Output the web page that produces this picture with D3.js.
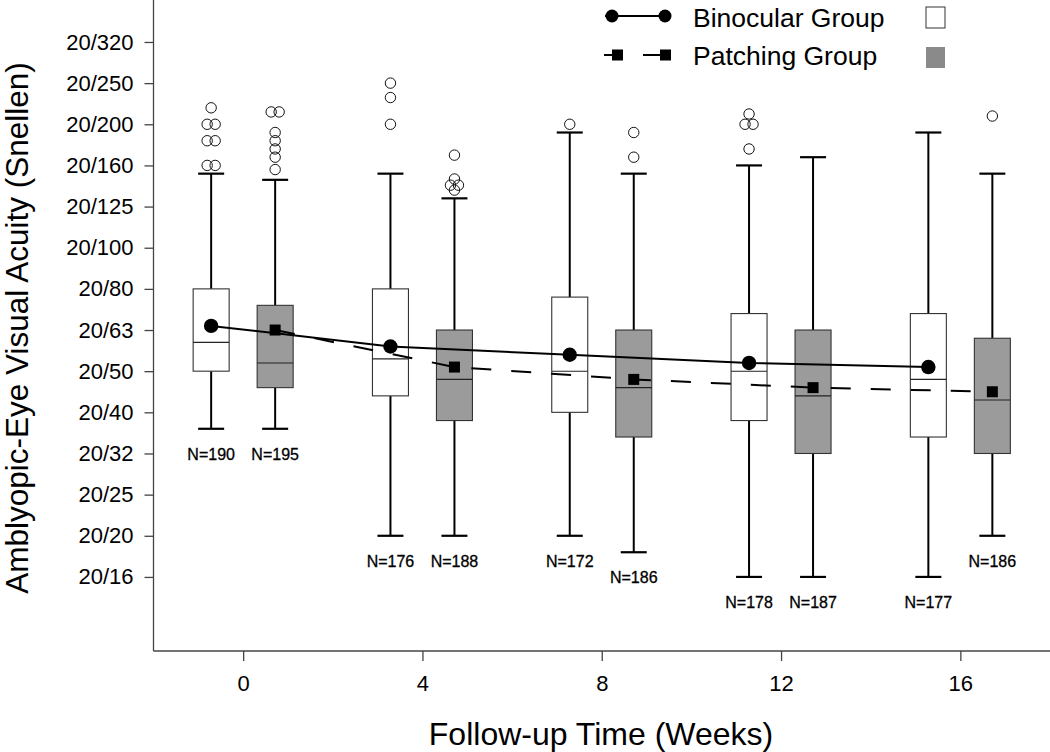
<!DOCTYPE html>
<html><head><meta charset="utf-8">
<script src="https://cdn.jsdelivr.net/npm/d3@7"></script>
<style>
body{margin:0;background:#fff}
svg{display:block}
text{font-family:"Liberation Sans",Arial,Helvetica,sans-serif;fill:#000}
</style>
</head><body>
<svg id="chart" width="1050" height="752"></svg>
<script>
// ---------- data (logMAR values) ----------
const weeks = [0, 4, 8, 12, 16];
const snellenLabels = ["20/16","20/20","20/25","20/32","20/40","20/50","20/63","20/80","20/100","20/125","20/160","20/200","20/250","20/320"];
const snellenLogMAR = [-0.1, 0.0, 0.1, 0.2, 0.3, 0.4, 0.5, 0.6, 0.7, 0.8, 0.9, 1.0, 1.1, 1.2];
const groupNames = ["Binocular Group", "Patching Group"];

const binLow  = [0.26, 0.00, 0.00, -0.10, -0.10];
const binQ1   = [0.40, 0.34, 0.30, 0.28, 0.24];
const binMed  = [0.47, 0.43, 0.40, 0.40, 0.38];
const binQ3   = [0.60, 0.60, 0.58, 0.54, 0.54];
const binHigh = [0.88, 0.88, 0.98, 0.90, 0.98];
const binMean = [0.51, 0.46, 0.44, 0.42, 0.41];
const binN    = [190, 176, 172, 178, 177];
const binOutliers = [[1.04, 1.0, 1.0, 0.96, 0.96, 0.90, 0.90], [1.10, 1.065, 1.0], [1.0], [1.025, 1.0, 1.0, 0.94], []];

const patLow  = [0.26, 0.00, -0.04, -0.10, 0.00];
const patQ1   = [0.36, 0.28, 0.24, 0.20, 0.20];
const patMed  = [0.42, 0.38, 0.36, 0.34, 0.33];
const patQ3   = [0.56, 0.50, 0.50, 0.50, 0.48];
const patHigh = [0.865, 0.82, 0.88, 0.92, 0.88];
const patMean = [0.50, 0.41, 0.38, 0.36, 0.35];
const patN    = [195, 188, 186, 187, 186];
const patOutliers = [[1.03, 1.03, 0.98, 0.96, 0.94, 0.92, 0.89], [0.925, 0.867, 0.852, 0.852, 0.84], [0.98, 0.92], [], [1.02]];

// ---------- build series ----------
function build(low,q1,med,q3,high,mean,n,outl){
  return weeks.map((w,i)=>({week:w,low:low[i],q1:q1[i],med:med[i],q3:q3[i],high:high[i],mean:mean[i],n:n[i],out:outl[i]}));
}
const series = [
  {name: groupNames[0], side:-1, fill:"#ffffff", marker:"circle", dash:null,   data: build(binLow,binQ1,binMed,binQ3,binHigh,binMean,binN,binOutliers)},
  {name: groupNames[1], side: 1, fill:"#9b9b9b", marker:"square", dash:"20,20", data: build(patLow,patQ1,patMed,patQ3,patHigh,patMean,patN,patOutliers)}
];

// ---------- scales ----------
const svg = d3.select("#chart");
const plotL = 153.5, plotR = 1050, plotB = 651, plotT = 0;
const x = d3.scaleLinear().domain([-2, 18]).range([plotL, plotR]);
const y = d3.scaleLinear().domain([-0.28, 1.302]).range([plotB, plotT]);
const offset = 32, boxW = 36, capW = 26;
const px = (s,d) => x(d.week) + s.side*offset;

// ---------- axes ----------
const yAxis = d3.axisLeft(y).tickValues(snellenLogMAR)
  .tickFormat((d,i)=>snellenLabels[i]).tickSizeOuter(0).tickSize(9).tickPadding(11);
const gy = svg.append("g").attr("transform",`translate(${plotL},0)`).call(yAxis);
gy.select(".domain").remove();
gy.selectAll(".tick line").attr("stroke","#444").attr("stroke-width",1.3);
gy.selectAll(".tick text").attr("font-size",22).attr("font-family","'Liberation Sans',Arial,sans-serif").attr("fill","#000");
svg.append("line").attr("x1",plotL).attr("x2",plotL).attr("y1",plotT).attr("y2",plotB)
  .attr("stroke","#444").attr("stroke-width",1.3);

const xAxis = d3.axisBottom(x).tickValues(weeks).tickSizeOuter(0).tickSize(10).tickPadding(14);
const gx = svg.append("g").attr("transform",`translate(0,${plotB})`).call(xAxis);
gx.select(".domain").remove();
gx.selectAll(".tick line").attr("stroke","#444").attr("stroke-width",1.3);
gx.selectAll(".tick text").attr("font-size",22).attr("font-family","'Liberation Sans',Arial,sans-serif").attr("fill","#000");
svg.append("line").attr("x1",plotL).attr("x2",plotR).attr("y1",plotB).attr("y2",plotB)
  .attr("stroke","#444").attr("stroke-width",1.3);

svg.append("text").attr("x",601).attr("y",745).attr("text-anchor","middle")
  .attr("font-size",32).text("Follow-up Time (Weeks)");
svg.append("text").attr("transform","translate(28,328) rotate(-90)").attr("text-anchor","middle")
  .attr("font-size",31.5).text("Amblyopic-Eye Visual Acuity (Snellen)");

// ---------- boxes ----------
series.forEach(s=>{
  const g = svg.append("g");
  const grp = g.selectAll("g.box").data(s.data).join("g").attr("class","box");
  grp.append("line").attr("x1",d=>px(s,d)).attr("x2",d=>px(s,d))
    .attr("y1",d=>y(d.q3)).attr("y2",d=>y(d.high)).attr("stroke","#000").attr("stroke-width",2);
  grp.append("line").attr("x1",d=>px(s,d)).attr("x2",d=>px(s,d))
    .attr("y1",d=>y(d.q1)).attr("y2",d=>y(d.low)).attr("stroke","#000").attr("stroke-width",2);
  grp.append("line").attr("x1",d=>px(s,d)-capW/2).attr("x2",d=>px(s,d)+capW/2)
    .attr("y1",d=>y(d.high)).attr("y2",d=>y(d.high)).attr("stroke","#000").attr("stroke-width",2.2);
  grp.append("line").attr("x1",d=>px(s,d)-capW/2).attr("x2",d=>px(s,d)+capW/2)
    .attr("y1",d=>y(d.low)).attr("y2",d=>y(d.low)).attr("stroke","#000").attr("stroke-width",2.2);
  grp.append("rect").attr("x",d=>px(s,d)-boxW/2).attr("width",boxW)
    .attr("y",d=>y(d.q3)).attr("height",d=>y(d.q1)-y(d.q3))
    .attr("fill",s.fill).attr("stroke","#333").attr("stroke-width",1.1);
  grp.append("line").attr("x1",d=>px(s,d)-boxW/2).attr("x2",d=>px(s,d)+boxW/2)
    .attr("y1",d=>y(d.med)).attr("y2",d=>y(d.med)).attr("stroke","#222").attr("stroke-width",1.1);
  grp.each(function(d){
    const counts = {};
    d.out.forEach(v=>{counts[v]=(counts[v]||0)+1;});
    const seen = {};
    const pts = d.out.map(v=>{
      const k = seen[v]||0; seen[v]=k+1;
      const c = counts[v];
      const dx = c>1 ? (k-(c-1)/2)*8 : 0;
      return {v,dx};
    });
    d3.select(this).selectAll("circle.out").data(pts).join("circle").attr("class","out")
      .attr("cx",p=>px(s,d)+p.dx).attr("cy",p=>y(p.v)).attr("r",5.2)
      .attr("fill","none").attr("stroke","#111").attr("stroke-width",1);
  });
  grp.append("text").attr("x",d=>px(s,d)).attr("y",d=>y(d.low)+31)
    .attr("text-anchor","middle").attr("font-size",16)
    .attr("stroke","#000").attr("stroke-width",0.3).text(d=>"N="+d.n);
});

// ---------- mean lines ----------
series.forEach(s=>{
  const line = d3.line().x(d=>px(s,d)).y(d=>y(d.mean));
  svg.append("path").datum(s.data).attr("d",line).attr("fill","none")
    .attr("stroke","#000").attr("stroke-width",2).attr("stroke-dasharray",s.dash);
  if(s.marker==="circle"){
    svg.append("g").selectAll("circle").data(s.data).join("circle")
      .attr("cx",d=>px(s,d)).attr("cy",d=>y(d.mean)).attr("r",7.2).attr("fill","#000");
  } else {
    svg.append("g").selectAll("rect").data(s.data).join("rect")
      .attr("x",d=>px(s,d)-5.5).attr("y",d=>y(d.mean)-5.5).attr("width",11).attr("height",11).attr("fill","#000");
  }
});

// ---------- legend ----------
const lg = svg.append("g");
lg.append("line").attr("x1",605).attr("x2",670).attr("y1",16).attr("y2",16).attr("stroke","#000").attr("stroke-width",2);
lg.append("circle").attr("cx",612).attr("cy",16).attr("r",6.5).attr("fill","#000");
lg.append("circle").attr("cx",665).attr("cy",16).attr("r",6.5).attr("fill","#000");
lg.append("text").attr("x",693).attr("y",27).attr("font-size",26.5).text(groupNames[0]);
lg.append("rect").attr("x",926).attr("y",7).attr("width",19).attr("height",21).attr("fill","#fff").attr("stroke","#333").attr("stroke-width",1);

lg.append("line").attr("x1",604).attr("x2",617).attr("y1",55).attr("y2",55).attr("stroke","#000").attr("stroke-width",2);
lg.append("line").attr("x1",643).attr("x2",665).attr("y1",55).attr("y2",55).attr("stroke","#000").attr("stroke-width",2);
lg.append("rect").attr("x",612).attr("y",49.5).attr("width",11).attr("height",11).attr("fill","#000");
lg.append("rect").attr("x",660).attr("y",49.5).attr("width",11).attr("height",11).attr("fill","#000");
lg.append("text").attr("x",693).attr("y",65).attr("font-size",26.5).text(groupNames[1]);
lg.append("rect").attr("x",926).attr("y",47).attr("width",19).attr("height",21).attr("fill","#8a8a8a");
</script>
</body></html>
